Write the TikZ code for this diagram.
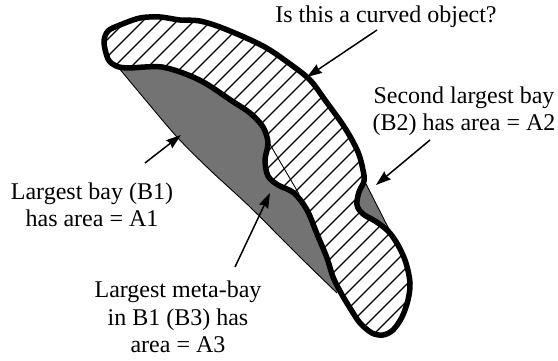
\documentclass[tikz,border=0pt]{standalone}
\usepackage{fontspec}
\setmainfont{Liberation Serif}
\usetikzlibrary{arrows.meta}
\begin{document}
\begin{tikzpicture}[x=1pt,y=-1pt,
  lbl/.style={font=\fontsize{24}{27.5}\selectfont, align=center, inner sep=0pt},
  ptr/.style={line width=1.5pt, -{Stealth[length=15pt,width=10pt,inset=1.5pt]}},
  hullline/.style={line width=0.9pt},
  outline/.style={line width=5.5pt, line join=round},
  hatchline/.style={line width=1.3pt},
  bayfill/.style={fill=black!55},
  objshape/.style={insert path={plot[smooth cycle, tension=0.55] coordinates {
    (104,42) (108,31) (120,25) (140,18) (160,17) (180,20) (200,21) (225,29)
    (263,46) (290,64) (310,80) (325,100) (345,128) (358,152) (363,170) (364,181)
    (359,192) (357,205) (363,214) (375,221) (388,231)
    (398,245) (406,263) (410,283) (408,300) (402,317) (393,330) (383,335)
    (372,333) (360,323) (350,308) (341,293)
    (333,277) (327,258) (317,234) (307,210) (294,193) (278,185) (268,176)
    (265,160) (268,143) (263,127) (250,113) (232,101) (205,83) (183,73)
    (162,67) (145,67) (128,68) (116,66) (108,59)}}}]
\useasboundingbox (0,0) rectangle (558,361);
\fill[white] (0,0) rectangle (558,361);
% bay B1
\fill[bayfill] plot[smooth, tension=0.5] coordinates {(118,67) (143,97) (177,137) (210,170) (250,207) (300,257) (337,293)}
  -- (345,200) -- (300,110) -- (200,45) -- (125,40) -- cycle;
% bay B2
\fill[bayfill] (364,180) -- (393,237) -- (350,205) -- cycle;
% object
\fill[white, objshape];
\begin{scope}
  \clip[objshape];
  \foreach \c in {130,147,...,780} \draw[hatchline] (\c,0) -- ++(-420,420);
\end{scope}
% hull lines
\draw[hullline] plot[smooth, tension=0.5] coordinates {(118,67) (143,97) (177,137) (210,170) (250,207) (300,257) (337,293)};
\draw[hullline] (364,180) -- (393,237);
\coordinate (m1) at (268,141);
\coordinate (m2) at (299,194);
\draw[hullline] (m1) -- (m2);
% outline
\draw[outline, objshape];
% labels
\node[lbl] (q) at (386,17) {Is this a curved object?};
\node[lbl] (b2) at (464,111) {Second largest bay\\(B2) has area = A2};
\node[lbl] (b1) at (92,205) {Largest bay (B1)\\has area = A1};
\node[lbl] (b3) at (178,317) {Largest meta-bay\\in B1 (B3) has\\area = A3};
% arrows
\coordinate (a1s) at (377,30);  \coordinate (a1e) at (307,77);
\coordinate (a2s) at (145,163); \coordinate (a2e) at (181,135);
\coordinate (a3s) at (430,140); \coordinate (a3e) at (376,185);
\coordinate (a4s) at (235,267); \coordinate (a4e) at (270,193);
\draw[ptr] (a1s) -- (a1e);
\draw[ptr] (a2s) -- (a2e);
\draw[ptr] (a3s) -- (a3e);
\draw[ptr] (a4s) -- (a4e);
\end{tikzpicture}
\end{document}
